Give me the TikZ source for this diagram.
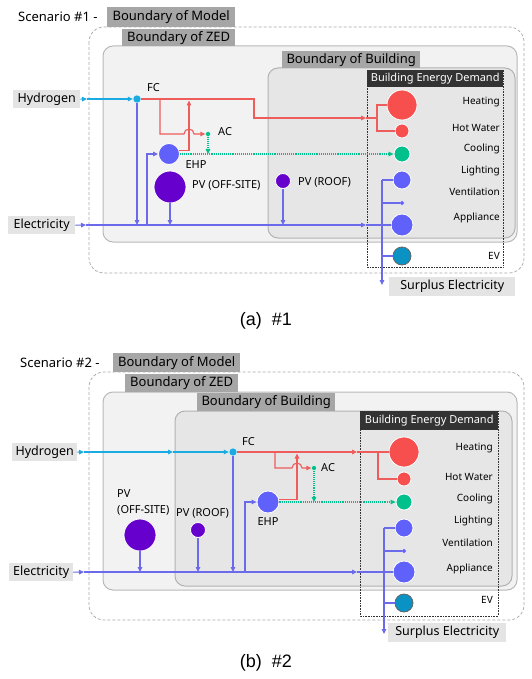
\documentclass[tikz,border=0pt]{standalone}
\usepackage{fontspec}
\setmainfont{Noto Sans}
\newfontfamily\capfont{Liberation Sans}
\usepackage{tikz}
\usetikzlibrary{arrows.meta}
\usepackage{xcolor}
\definecolor{heatred}{HTML}{F74E4E}
\definecolor{heatline}{HTML}{EE5C5C}
\definecolor{elecblue}{HTML}{6060FA}
\definecolor{elecline}{HTML}{6A6AEA}
\definecolor{pvpurple}{HTML}{6600CC}
\definecolor{coolgreen}{HTML}{00C08C}
\definecolor{hydcyan}{HTML}{1AABE3}
\definecolor{evteal}{HTML}{0A92C4}
\definecolor{bndgray}{HTML}{A6A6A6}
\definecolor{ingray}{HTML}{E4E4E4}
\definecolor{zedfill}{HTML}{F2F2F2}
\definecolor{bldgfill}{HTML}{E6E6E6}
\definecolor{headdark}{HTML}{333333}

\begin{document}
\begin{tikzpicture}[x=1pt, y=-1pt,
    >={Triangle[length=5pt,width=4.5pt]},
    hline/.style={draw=heatline, line width=1.1pt},
    eline/.style={draw=elecline, line width=1.1pt},
    h2line/.style={draw=hydcyan, line width=1.1pt},
    cline/.style={draw=coolgreen, line width=1.1pt, densely dotted},
    ball/.style={circle, draw=white, line width=0.8pt, inner sep=0pt},
    dlabel/.style={anchor=east, inner sep=0pt, font=\fontsize{10}{12}\selectfont},
    plabel/.style={inner sep=0pt, font=\fontsize{11}{13}\selectfont},
    bndlabel/.style={fill=bndgray, inner sep=0pt, anchor=north west, font=\fontsize{13}{15}\selectfont},
    inlabel/.style={fill=ingray, inner sep=0pt, anchor=north west, font=\fontsize{12.5}{15}\selectfont},
    header/.style={fill=headdark, text=white, inner sep=0pt, anchor=north west, font=\fontsize{11}{13}\selectfont},
    modelbox/.style={draw=gray!70, dash pattern=on 3pt off 2pt, line width=0.7pt, rounded corners=15pt},
    zedbox/.style={draw=gray!55, fill=zedfill, line width=1pt, rounded corners=10pt},
    bldgbox/.style={draw=gray!60, fill=bldgfill, line width=1pt, rounded corners=10pt},
    demandbox/.style={draw=black!80, densely dotted, line width=0.6pt}]
    \useasboundingbox (0,0) rectangle (531,679);

    % Scenario #1
    \node[anchor=west, inner sep=0pt, font=\fontsize{13}{15}\selectfont] (scen1) at (18,17) {Scenario \#1 -};
    \draw[modelbox] (89,27) rectangle (524,273);
    \node[bndlabel, minimum width=128, minimum height=20] (model1) at (107,7) {Boundary of Model};
    \draw[zedbox] (103,46) rectangle (517,242);
    \node[bndlabel, minimum width=113, minimum height=17] (zed1) at (122,29) {Boundary of ZED};
    \draw[bldgbox] (268,68) rectangle (515,238);
    \node[bndlabel, minimum width=138, minimum height=17] (bldg1) at (282,51) {Boundary of Building};
    \draw[demandbox] (367,70) rectangle (503,267);
    \node[header, minimum width=136, minimum height=17] (dem1) at (367,70) {Building Energy Demand};

    \node[inlabel, minimum width=67, minimum height=18] (hyd1) at (13,90) {Hydrogen};
    \node[inlabel, minimum width=67, minimum height=18] (elec1) at (8,216) {Electricity};
    \node[inlabel, minimum width=126, minimum height=19] (surp1) at (389,277) {Surplus Electricity};

    \node[ball, fill=heatred, minimum size=30] (heat1) at (402,105) {};
    \node[ball, fill=heatred, minimum size=14] (hw1) at (402,131) {};
    \node[ball, fill=coolgreen, minimum size=16] (cool1) at (402,154) {};
    \node[ball, fill=elecblue, minimum size=18] (light1) at (402,180) {};
    \node[ball, fill=elecblue, minimum size=4.5, line width=0.3pt] (vent1) at (402,203) {};
    \node[ball, fill=elecblue, minimum size=22] (appl1) at (402,225) {};
    \node[ball, fill=evteal, draw=gray!80!black, minimum size=18] (ev1) at (402,256) {};
    \node[dlabel] (heat1t) at (500,102) {Heating};
    \node[dlabel] (hw1t) at (500,128) {Hot Water};
    \node[dlabel] (cool1t) at (500,149) {Cooling};
    \node[dlabel] (light1t) at (500,171) {Lighting};
    \node[dlabel] (vent1t) at (500,192) {Ventilation};
    \node[dlabel] (appl1t) at (500,218) {Appliance};
    \node[dlabel] (ev1t) at (500,256) {EV};

    \node[ball, fill=hydcyan, minimum size=8, line width=0.3pt] (fc1) at (137,99) {};
    \node[plabel, anchor=west] (fc1t) at (147,88) {FC};
    \node[ball, fill=coolgreen, minimum size=5, line width=0.3pt] (ac1) at (208,134) {};
    \node[plabel, anchor=west] (ac1t) at (218,132) {AC};
    \node[ball, fill=elecblue, minimum size=21] (ehp1) at (169,154) {};
    \node[plabel] (ehp1t) at (196,165) {EHP};
    \node[ball, fill=pvpurple, minimum size=32] (pvoff1) at (170,187) {};
    \node[plabel, anchor=west] (pvoff1t) at (192,185) {PV (OFF-SITE)};
    \node[ball, fill=pvpurple, minimum size=15] (pvroof1) at (283,181) {};
    \node[plabel, anchor=west] (pvroof1t) at (298,182) {PV (ROOF)};

    \coordinate (h1a) at (87,99);
    \draw[h2line,->] (hyd1.east) -- (h1a);
    \draw[h2line,->] (h1a) -- (fc1.west);

    \coordinate (e1a) at (86,225);
    \coordinate (e1b) at (366,225);
    \coordinate (bus1) at (382,180);
    \draw[eline,->] (elec1.east) -- (e1a);
    \draw[eline,->] (e1a) -- (e1b);
    \draw[eline] (e1b) -- (bus1 |- e1b);
    \draw[eline,->] (bus1) -- (382,285);
    \draw[eline] (bus1) -- (light1.west);
    \draw[eline] (bus1 |- vent1) -- (vent1.west);
    \draw[eline] (bus1 |- appl1) -- (appl1.west);
    \draw[eline] (bus1 |- ev1) -- (ev1.west);
    \draw[eline,->] (fc1.south) -- (fc1 |- e1a);
    \draw[eline,->] (147,225) |- (ehp1.west);
    \draw[eline,->] (pvoff1.south) -- (pvoff1 |- e1a);
    \draw[eline,->] (pvroof1.south) -- (pvroof1 |- e1a);

    \coordinate (r1a) at (254,99);
    \coordinate (r1b) at (366,118);
    \coordinate (r1c) at (377,118);
    \draw[hline,->] (fc1.east) -- (r1a) |- (r1b);
    \draw[hline] (r1b) -- (r1c);
    \draw[hline] (heat1.west) -| (r1c |- hw1) -- (hw1.west);
    \draw[hline,->] (160,99) -- (160,134) -- (184,134) arc[start angle=180, end angle=360, radius=5] -- (ac1.west);
    \draw[hline,->] (ehp1.20) -| (189,100.5);
    \draw[cline,->] (ac1.south) -- (ac1 |- ehp1);
    \draw[cline,->] (ehp1.east) -- (cool1.west);

    \node[font=\capfont\fontsize{18}{20}\selectfont] (capa) at (266,321) {(a)\ \ \#1};

    % Scenario #2
    \node[anchor=west, inner sep=0pt, font=\fontsize{13}{15}\selectfont] (scen2) at (20,363) {Scenario \#2 -};
    \draw[modelbox] (89,372) rectangle (524,620);
    \node[bndlabel, minimum width=127, minimum height=19] (model2) at (113,353) {Boundary of Model};
    \draw[zedbox] (103,392) rectangle (517,590);
    \node[bndlabel, minimum width=113, minimum height=18] (zed2) at (125,374) {Boundary of ZED};
    \draw[bldgbox] (175,411) rectangle (512,586);
    \node[bndlabel, minimum width=138, minimum height=18] (bldg2) at (197,393) {Boundary of Building};
    \draw[demandbox] (360,411) rectangle (498,616);
    \node[header, minimum width=138, minimum height=19] (dem2) at (360,411) {Building Energy Demand};

    \node[inlabel, minimum width=65, minimum height=18] (hyd2) at (12,443) {Hydrogen};
    \node[inlabel, minimum width=64, minimum height=18] (elec2) at (9,563) {Electricity};
    \node[inlabel, minimum width=118, minimum height=19] (surp2) at (388,623) {Surplus Electricity};

    \node[ball, fill=heatred, minimum size=30] (heat2) at (404,452) {};
    \node[ball, fill=heatred, minimum size=14] (hw2) at (404,479) {};
    \node[ball, fill=coolgreen, minimum size=16] (cool2) at (404,502) {};
    \node[ball, fill=elecblue, minimum size=18] (light2) at (404,528) {};
    \node[ball, fill=elecblue, minimum size=4.5, line width=0.3pt] (vent2) at (404,551) {};
    \node[ball, fill=elecblue, minimum size=22] (appl2) at (404,572) {};
    \node[ball, fill=evteal, draw=gray!80!black, minimum size=18] (ev2) at (404,603) {};
    \node[dlabel] (heat2t) at (493,448) {Heating};
    \node[dlabel] (hw2t) at (493,477) {Hot Water};
    \node[dlabel] (cool2t) at (493,499) {Cooling};
    \node[dlabel] (light2t) at (493,521) {Lighting};
    \node[dlabel] (vent2t) at (493,543) {Ventilation};
    \node[dlabel] (appl2t) at (493,569) {Appliance};
    \node[dlabel] (ev2t) at (493,600) {EV};

    \node[ball, fill=hydcyan, minimum size=8, line width=0.3pt] (fc2) at (233,452) {};
    \node[plabel, anchor=west] (fc2t) at (242,442) {FC};
    \node[ball, fill=coolgreen, minimum size=5, line width=0.3pt] (ac2) at (314,468) {};
    \node[plabel, anchor=west] (ac2t) at (321,468) {AC};
    \node[ball, fill=elecblue, minimum size=22] (ehp2) at (268,502) {};
    \node[plabel] (ehp2t) at (268,522) {EHP};
    \node[ball, fill=pvpurple, minimum size=32] (pvoff2) at (140,535) {};
    \node[plabel, anchor=north west, align=left, font=\fontsize{11}{16}\selectfont] (pvoff2t) at (117,489) {PV\\(OFF-SITE)};
    \node[ball, fill=pvpurple, minimum size=15] (pvroof2) at (198,530) {};
    \node[plabel, anchor=west] (pvroof2t) at (176,513) {PV (ROOF)};

    \coordinate (h2a) at (84,452);
    \coordinate (h2b) at (173,452);
    \draw[h2line,->] (hyd2.east) -- (h2a);
    \draw[h2line,->] (h2a) -- (h2b);
    \draw[h2line,->] (h2b) -- (fc2.west);

    \coordinate (e2a) at (84,572);
    \coordinate (e2b) at (357,572);
    \coordinate (bus2) at (384,528);
    \draw[eline,->] (elec2.east) -- (e2a);
    \draw[eline,->] (e2a) -- (e2b);
    \draw[eline] (e2b) -- (bus2 |- e2b);
    \draw[eline,->] (bus2) -- (384,634);
    \draw[eline] (bus2) -- (light2.west);
    \draw[eline] (bus2 |- vent2) -- (vent2.west);
    \draw[eline] (bus2 |- appl2) -- (appl2.west);
    \draw[eline] (bus2 |- ev2) -- (ev2.west);
    \draw[eline,->] (fc2.south) -- (fc2 |- e2a);
    \draw[eline,->] (245,572) |- (ehp2.west);
    \draw[eline,->] (pvoff2.south) -- (pvoff2 |- e2a);
    \draw[eline,->] (pvroof2.south) -- (pvroof2 |- e2a);

    \coordinate (r2b) at (357,452);
    \coordinate (r2c) at (378,452);
    \draw[hline,->] (fc2.east) -- (r2b);
    \draw[hline] (r2b) -- (heat2.west);
    \draw[hline] (r2c) |- (hw2.west);
    \draw[hline,->] (275,452) -- (275,468) -- (292,468) arc[start angle=180, end angle=360, radius=5] -- (ac2.west);
    \draw[hline,->] (ehp2.15) -| (297,453.5);
    \draw[cline,->] (ac2.south) -- (ac2 |- ehp2);
    \draw[cline,->] (ehp2.east) -- (cool2.west);

    \node[font=\capfont\fontsize{18}{20}\selectfont] (capb) at (266,663) {(b)\ \ \#2};
\end{tikzpicture}
\end{document}
